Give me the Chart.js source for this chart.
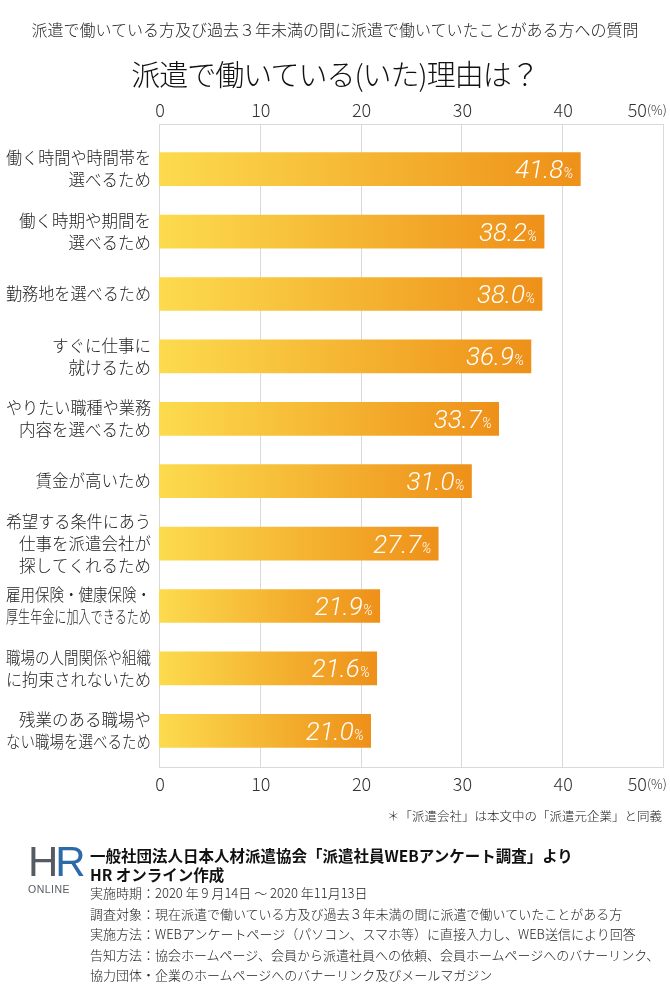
<!DOCTYPE html>
<html lang="ja">
<head>
<meta charset="utf-8">
<script src="https://cdn.jsdelivr.net/npm/chart.js@4"></script>
<style>
  body { margin: 0; background: #fff; font-family: 'Noto Sans CJK JP', sans-serif; color: #222; }
  #wrap { position: relative; width: 670px; height: 995px; overflow: hidden; }
  #grafico { position: absolute; left: 0; top: 0; }
  .txt { position: absolute; white-space: nowrap; font-weight: 300; }
  #subtitulo { left: 0; width: 670px; top: 17px; text-align: center; font-size: 16px; color: #222; }
  #titulo { left: 0; width: 670px; top: 52px; text-align: center; font-size: 29px; color: #111; letter-spacing: -1px; }
  #nota { right: 8px; top: 806px; font-size: 12.5px; color: #222; }
  #logo { left: 28px; top: 842px; width: 55px; }
  #logo .hr { font-family: 'Liberation Sans', sans-serif; font-size: 42px; line-height: 40px; letter-spacing: -3px; }
  #logo .h { color: #555b62; }
  #logo .r { color: #2c6aa8; }
  #logo .on { font-family: 'Liberation Sans', sans-serif; font-size: 10.5px; color: #555b62; letter-spacing: 0.5px; margin-top: 1px; }
  #fonte { left: 90px; top: 846px; font-size: 15.5px; font-weight: 700; line-height: 19px; color: #111; }
  #detalhes { left: 90px; top: 883px; font-size: 13px; line-height: 20.5px; color: #222; }
</style>
</head>
<body>
<div id="wrap">
  <canvas id="grafico" width="670" height="995"></canvas>
  <div class="txt" id="subtitulo">派遣で働いている方及び過去３年未満の間に派遣で働いていたことがある方への質問</div>
  <div class="txt" id="titulo">派遣で働いている(いた)理由は？</div>
  <div class="txt" id="nota">＊「派遣会社」は本文中の「派遣元企業」と同義</div>
  <div class="txt" id="logo">
    <div class="hr"><span class="h">H</span><span class="r">R</span></div>
    <div class="on">ONLINE</div>
  </div>
  <div class="txt" id="fonte">一般社団法人日本人材派遣協会「派遣社員WEBアンケート調査」より<br>HR オンライン作成</div>
  <div class="txt" id="detalhes">
    実施時期：2020 年 9 月14日 ～ 2020 年11月13日<br>
    調査対象：現在派遣で働いている方及び過去３年未満の間に派遣で働いていたことがある方<br>
    実施方法：WEBアンケートページ（パソコン、スマホ等）に直接入力し、WEB送信により回答<br>
    告知方法：協会ホームページ、会員から派遣社員への依頼、会員ホームページへのバナーリンク、<br>
    協力団体・企業のホームページへのバナーリンク及びメールマガジン
  </div>
</div>

<script>
const categorias = [
  ['働く時間や時間帯を', '選べるため'],
  ['働く時期や期間を', '選べるため'],
  ['勤務地を選べるため'],
  ['すぐに仕事に', '就けるため'],
  ['やりたい職種や業務', '内容を選べるため'],
  ['賃金が高いため'],
  ['希望する条件にあう', '仕事を派遣会社が', '探してくれるため'],
  ['雇用保険・健康保険・', '厚生年金に加入できるため'],
  ['職場の人間関係や組織', 'に拘束されないため'],
  ['残業のある職場や', 'ない職場を選べるため'],
];
const valores = [41.8, 38.2, 38.0, 36.9, 33.7, 31.0, 27.7, 21.9, 21.6, 21.0];
const ticksEixo = [0, 10, 20, 30, 40, 50];

const fonteJP = "'Noto Sans CJK JP', sans-serif";

function corBarra(context) {
  const chart = context.chart;
  if (!chart.chartArea) return '#f5b52f';
  const escala = chart.scales.x;
  const x0 = escala.getPixelForValue(0);
  const x1 = escala.getPixelForValue(valores[context.dataIndex]);
  const grad = chart.ctx.createLinearGradient(x0, 0, x1, 0);
  grad.addColorStop(0, '#fcdb4e');
  grad.addColorStop(1, '#ee9019');
  return grad;
}

const gradePlugin = {
  id: 'grade',
  beforeDatasetsDraw(chart) {
    const ctx = chart.ctx;
    const x = chart.scales.x;
    const topo = 124;
    const base = 767;
    ctx.save();
    ctx.strokeStyle = '#d9d9d9';
    ctx.lineWidth = 1;
    ticksEixo.forEach((v) => {
      const px = Math.round(x.getPixelForValue(v)) + 0.5;
      ctx.beginPath();
      ctx.moveTo(px, topo);
      ctx.lineTo(px, base);
      ctx.stroke();
    });
    const esq = Math.round(x.getPixelForValue(0));
    const dir = Math.round(x.getPixelForValue(50)) + 1;
    [topo + 0.5, base + 0.5].forEach((py) => {
      ctx.beginPath();
      ctx.moveTo(esq, py);
      ctx.lineTo(dir, py);
      ctx.stroke();
    });

    // rotulos dos eixos (topo e base)
    ctx.fillStyle = '#333';
    ctx.textBaseline = 'middle';
    [110, 784].forEach((py) => {
      ticksEixo.forEach((v) => {
        const px = x.getPixelForValue(v);
        ctx.font = '300 18px ' + fonteJP;
        if (v === 50) {
          ctx.textAlign = 'right';
          ctx.fillText('50', px - 16, py);
          ctx.font = '300 13px ' + fonteJP;
          ctx.textAlign = 'left';
          ctx.fillText('(%)', px - 16, py);
        } else {
          ctx.textAlign = 'center';
          ctx.fillText(String(v), px + 1, py);
        }
      });
    });

    // categorias
    const y = chart.scales.y;
    ctx.fillStyle = '#222';
    ctx.textAlign = 'right';
    ctx.font = '300 16.5px ' + fonteJP;
    categorias.forEach((linhas, i) => {
      const cy = y.getPixelForValue(i);
      const alt = 22;
      const inicio = cy - ((linhas.length - 1) * alt) / 2;
      linhas.forEach((l, j) => {
        ctx.fillText(l, 151, inicio + j * alt, 145);
      });
    });
    ctx.restore();
  },
  afterDatasetsDraw(chart) {
    const ctx = chart.ctx;
    const meta = chart.getDatasetMeta(0);
    ctx.save();
    ctx.fillStyle = '#fff';
    ctx.textBaseline = 'alphabetic';
    meta.data.forEach((bar, i) => {
      const fim = bar.x - 7;
      const cy = bar.y + 9;
      ctx.font = 'italic 300 14px Roboto, sans-serif';
      const wp = ctx.measureText('%').width;
      ctx.textAlign = 'right';
      ctx.fillText('%', fim, cy);
      ctx.font = 'italic 300 26px Roboto, sans-serif';
      ctx.fillText(valores[i].toFixed(1), fim - wp, cy);
    });
    ctx.restore();
  },
};

new Chart(document.getElementById('grafico'), {
  type: 'bar',
  data: {
    labels: categorias.map((c) => c.join('')),
    datasets: [
      {
        data: valores,
        backgroundColor: corBarra,
        borderWidth: 0,
        barThickness: 33,
      },
    ],
  },
  options: {
    indexAxis: 'y',
    responsive: false,
    animation: false,
    layout: { padding: { left: 159, right: 7, top: 138, bottom: 233 } },
    plugins: {
      legend: { display: false },
      tooltip: { enabled: false },
    },
    scales: {
      x: {
        min: 0,
        max: 50,
        display: false,
      },
      y: {
        display: false,
      },
    },
  },
  plugins: [gradePlugin],
});
</script>
</body>
</html>
